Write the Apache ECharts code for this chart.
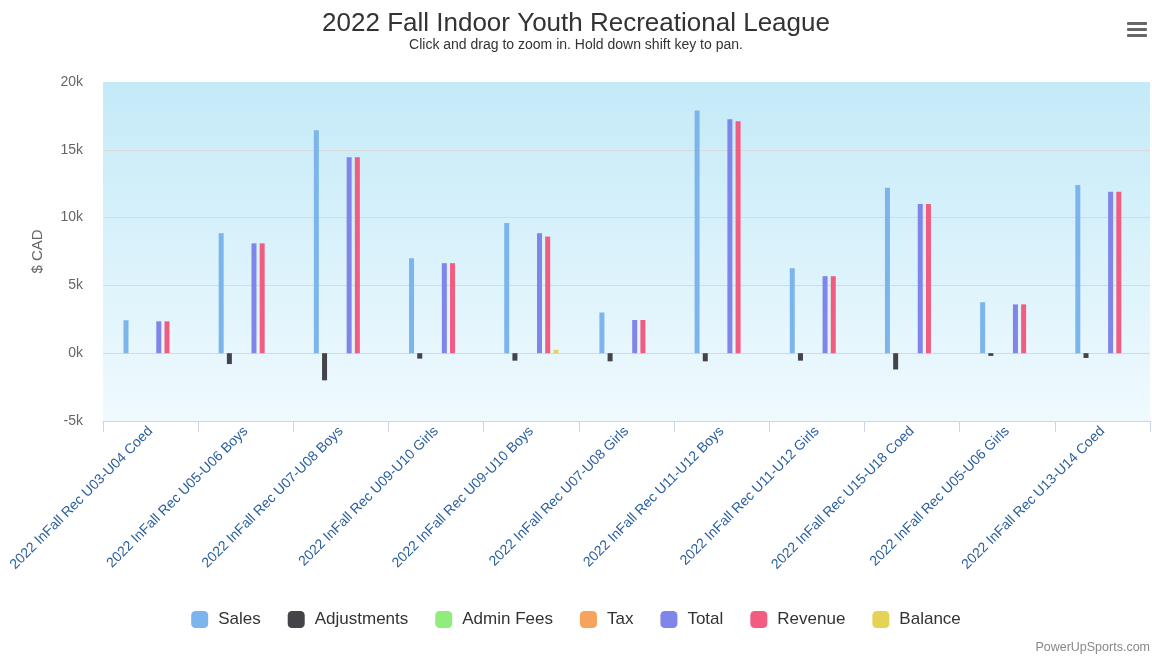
<!DOCTYPE html>
<html><head><meta charset="utf-8">
<script src="https://cdn.jsdelivr.net/npm/echarts@6/dist/echarts.min.js"></script>
<style>html,body{margin:0;padding:0;background:#fff}#c{width:1152px;height:662px}</style>
</head><body><div id="c"></div>
<script>
const categories = ["2022 InFall Rec U03-U04 Coed","2022 InFall Rec U05-U06 Boys","2022 InFall Rec U07-U08 Boys","2022 InFall Rec U09-U10 Girls","2022 InFall Rec U09-U10 Boys","2022 InFall Rec U07-U08 Girls","2022 InFall Rec U11-U12 Boys","2022 InFall Rec U11-U12 Girls","2022 InFall Rec U15-U18 Coed","2022 InFall Rec U05-U06 Girls","2022 InFall Rec U13-U14 Coed"];
const sales       = [2430, 8850, 16450, 7000, 9600, 3000, 17900, 6270, 12200, 3760, 12400];
const adjustments = [0, -800, -2000, -400, -550, -600, -600, -550, -1200, -200, -350];
const adminFees   = [0, 0, 0, 0, 0, 0, 0, 0, 0, 0, 0];
const tax         = [0, 0, 0, 0, 0, 0, 0, 0, 0, 0, 0];
const total       = [2350, 8100, 14450, 6640, 8850, 2450, 17250, 5680, 11000, 3600, 11900];
const revenue     = [2350, 8100, 14450, 6640, 8600, 2450, 17100, 5680, 11000, 3600, 11900];
const balance     = [0, 0, 0, 0, 250, 0, 0, 0, 0, 0, 0];
const yTicks = [-5000, 0, 5000, 10000, 15000, 20000];

const FONT = '"Liberation Sans", Arial, sans-serif';
const names = ["Sales","Adjustments","Admin Fees","Tax","Total","Revenue","Balance"];
const colors = ["#7cb5ec","#434348","#90ed7d","#f7a35c","#8085e9","#f15c80","#e4d354"];
const datas = [sales, adjustments, adminFees, tax, total, revenue, balance];

const chart = echarts.init(document.getElementById('c'));
chart.setOption({
  animation: false,
  textStyle: {fontFamily: FONT},
  title: {
    text: "2022 Fall Indoor Youth Recreational League",
    subtext: "Click and drag to zoom in. Hold down shift key to pan.",
    left: 'center', top: 6, itemGap: 1,
    textStyle: {fontSize: 26, fontWeight: 'normal', color: '#333', fontFamily: FONT},
    subtextStyle: {fontSize: 14, color: '#333', fontFamily: FONT}
  },
  legend: {
    bottom: 29, left: 'center', itemWidth: 17, itemHeight: 17, itemGap: 27,
    icon: 'roundRect',
    textStyle: {fontSize: 17, color: '#333', fontFamily: FONT, padding: [0, 0, 0, 5]},
    data: names
  },
  grid: {
    left: 103, right: 2, top: 82, bottom: 241, show: true, borderWidth: 0,
    backgroundColor: new echarts.graphic.LinearGradient(0,0,0,1,[{offset:0,color:'#c4eaf8'},{offset:1,color:'#f0fafe'}])
  },
  xAxis: {
    type: 'category', data: categories,
    axisLine: {onZero: false, lineStyle: {color: '#ccd6eb'}},
    axisTick: {show: true, length: 11, alignWithLabel: false, lineStyle: {color: '#ccd6eb'}},
    axisLabel: {rotate: 45, interval: 0, fontSize: 14, color: '#2a5f9e', margin: 8, fontFamily: FONT}
  },
  yAxis: {
    type: 'value', min: yTicks[0], max: yTicks[yTicks.length-1], interval: 5000,
    name: '$ CAD', nameLocation: 'middle', nameGap: 58, nameRotate: 90,
    nameTextStyle: {fontSize: 15, color: '#666', fontFamily: FONT},
    axisLine: {show: false}, axisTick: {show: false},
    splitLine: {lineStyle: {color: ['#d9d9d9','#d9d9d9','#d9d9d9','#d9d9d9','#d9d9d9','rgba(0,0,0,0)']}},
    axisLabel: {fontSize: 14, color: '#666', margin: 20, formatter: v => (v/1000) + 'k'}
  },
  series: names.map((n, i) => ({
    name: n, type: 'bar', data: datas[i], barWidth: 5, barGap: '64%',
    itemStyle: {color: colors[i]}
  })),
  graphic: [
    {type: 'rect', left: 1127, top: 22, shape: {width: 20, height: 3, r: 1}, style: {fill: '#666'}},
    {type: 'rect', left: 1127, top: 28, shape: {width: 20, height: 3, r: 1}, style: {fill: '#666'}},
    {type: 'rect', left: 1127, top: 34, shape: {width: 20, height: 3, r: 1}, style: {fill: '#666'}},
    {type: 'text', right: 2, bottom: 8, style: {text: 'PowerUpSports.com', fontSize: 12.5, fill: '#888', fontFamily: FONT}}
  ]
});
</script></body></html>
